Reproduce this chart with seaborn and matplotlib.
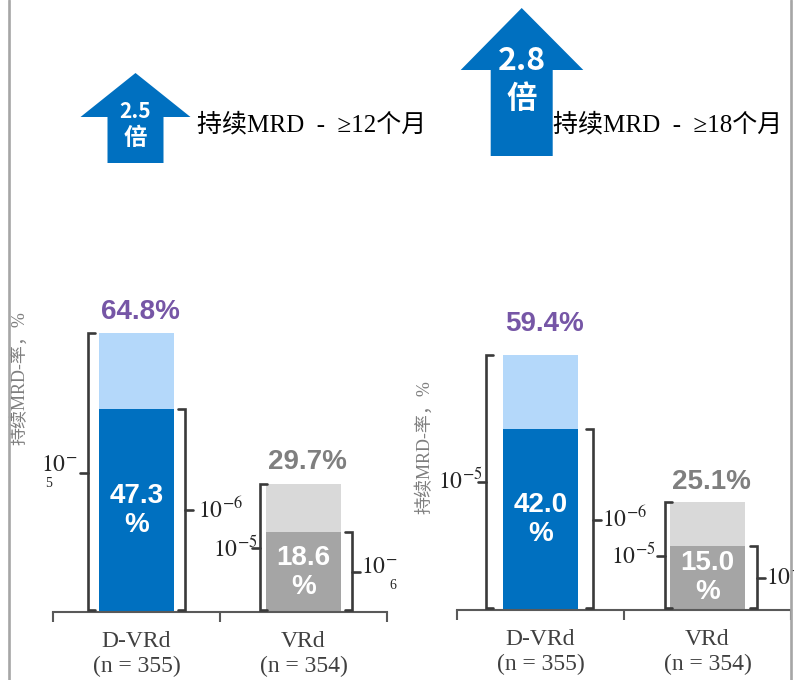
import matplotlib
matplotlib.use('Agg')
import matplotlib.pyplot as plt
import numpy as np
import pandas as pd
import seaborn as sns
from matplotlib.patches import Polygon
from matplotlib.lines import Line2D

# ---------------- data ----------------
groups = ['D-VRd', 'VRd']
group_labels = ['D-VRd\n(n = 355)', 'VRd\n(n = 354)']
titles = ['持续MRD  -  ≥12个月', '持续MRD  -  ≥18个月']
fold_values = ['2.5', '2.8']
fold_unit = '倍'
ylabel_text = '持续MRD-率，%'

total_12m = [64.8, 29.7]   # MRD 10^-5
deep_12m = [47.3, 18.6]    # MRD 10^-6
total_18m = [59.4, 25.1]
deep_18m = [42.0, 15.0]

# ---------------- style ----------------
sns.set_theme(style='white')
plt.rcParams['font.family'] = ['Liberation Serif', 'Noto Sans CJK SC', 'DejaVu Sans']
plt.rcParams['mathtext.fontset'] = 'stix'

W, H = 794, 680
DARK_BLUE = '#0070C0'
LIGHT_BLUE = '#B4D8FA'
DARK_GRAY = '#A5A5A5'
LIGHT_GRAY = '#D9D9D9'
PURPLE = '#7656A6'
TXT_GRAY = '#7F7F7F'
BRACKET = '#3A3A3A'
AXIS = '#595959'
SANS_CJK = ['Noto Sans CJK SC', 'DejaVu Sans']
SERIF_CJK = ['Liberation Serif', 'Noto Sans CJK SC', 'DejaVu Sans']

fig = plt.figure(figsize=(W / 100, H / 100), dpi=100)
fig.patch.set_facecolor('white')


def fx(x):
    return x / W


def fy(y):
    return 1 - y / H


# frame lines
for xp in (8.5, 791):
    fig.add_artist(Line2D([fx(xp), fx(xp)], [0, 1], transform=fig.transFigure,
                          color='#A6A6A6', lw=1.9))

panels = [
    dict(total=total_12m, deep=deep_12m, left=53, base=612, title=titles[0],
         fold=fold_values[0], ylab=(-0.074, 0.544),
         top_off=[21, 22],
         br=[-0.29, 0.29, -0.26, 0.29],
         arrow=dict(tip=(135.5, 73), hb=117, hx=(80.5, 190.5), sx=(107.5, 163.5), bot=163,
                    t1=(135.5, 111, 15), t2=(135.5, 138, 17)),
         title_pos=(197, 125)),
    dict(total=total_18m, deep=deep_18m, left=457, base=610, title=titles[1],
         fold=fold_values[1], ylab=(-0.071, 0.379),
         top_off=[31, 20],
         br=[-0.326, 0.314, -0.255, 0.296],
         arrow=dict(tip=(521.7, 8), hb=70, hx=(460.7, 583.3), sx=(490.7, 552.7), bot=156,
                    t1=(521.7, 61, 23), t2=(521.7, 99, 22)),
         title_pos=(553, 125)),
]

PX_PER_UNIT = 167.0


def bracket(ax, x, top, stub_dir, tick_dir):
    s = 7 / PX_PER_UNIT
    t = 8 / PX_PER_UNIT
    ax.plot([x + stub_dir * s, x, x, x + stub_dir * s], [0.4, 0.4, top, top],
            color=BRACKET, lw=1.9, clip_on=False, solid_joinstyle='miter', zorder=5)
    ax.plot([x, x + tick_dir * t], [top / 2, top / 2], color=BRACKET, lw=1.9,
            clip_on=False, zorder=5)
    return x + tick_dir * t, top / 2


for pi, p in enumerate(panels):
    ax = fig.add_axes([fx(p['left']), fy(p['base']), 334 / W, 430 / H])
    df = pd.DataFrame({'group': groups, 'total': p['total'], 'deep': p['deep']})
    sns.barplot(data=df, x='group', y='total', hue='group', order=groups, hue_order=groups,
                palette=[LIGHT_BLUE, LIGHT_GRAY], width=0.455, saturation=1,
                errorbar=None, legend=False, linewidth=0, ax=ax)
    sns.barplot(data=df, x='group', y='deep', hue='group', order=groups, hue_order=groups,
                palette=[DARK_BLUE, DARK_GRAY], width=0.455, saturation=1,
                errorbar=None, legend=False, linewidth=0, ax=ax)
    ax.set_xlim(-0.5, 1.5)
    ax.set_ylim(0, 100)
    ax.set_facecolor('none')
    sns.despine(ax=ax, left=True)
    ax.spines['bottom'].set_color(AXIS)
    ax.spines['bottom'].set_linewidth(1.5)
    ax.set_yticks([])
    ax.set_xlabel('')
    ax.set_xticks([0, 1])
    ax.set_xticklabels(group_labels, fontsize=17, color='#404040', linespacing=1.22,
                       family=SERIF_CJK)
    ax.set_xticks([-0.5, 0.5, 1.5], minor=True)
    ax.tick_params(axis='x', which='major', length=0, pad=14)
    ax.tick_params(axis='x', which='minor', length=7.5, width=1.5, color=AXIS,
                   direction='out', bottom=True)
    ax.set_ylabel(ylabel_text, fontsize=13, color=TXT_GRAY, family=SERIF_CJK)
    ax.yaxis.set_label_coords(*p['ylab'])

    # value labels
    for i, (tv, dv) in enumerate(zip(p['total'], p['deep'])):
        ax.annotate(f'{tv:.1f}%', (i, tv), xytext=(3, p['top_off'][i] * 0.72),
                    textcoords='offset points', ha='center', va='center',
                    color=PURPLE if i == 0 else TXT_GRAY, fontsize=20,
                    fontweight='bold', family='Liberation Sans', annotation_clip=False)
        ax.text(i, dv / 2, f'{dv:.1f}\n%', ha='center', va='center', color='white',
                fontsize=20, fontweight='bold', family='Liberation Sans', linespacing=1.15)

    # brackets
    b = p['br']
    specs = [(0 + b[0], p['total'][0], 1, -1), (0 + b[1], p['deep'][0], -1, 1),
             (1 + b[2], p['total'][1], 1, -1), (1 + b[3], p['deep'][1], -1, 1)]
    ends = [bracket(ax, *s) for s in specs]
    lab5 = r'$10^{-5}$'
    lab6 = r'$10^{-6}$'
    kw = dict(textcoords='offset points', fontsize=17, color='#262626', annotation_clip=False)
    small = dict(textcoords='offset points', fontsize=10, color='#262626',
                 annotation_clip=False, ha='center', va='center')
    if pi == 0:
        ax.annotate(r'$10^{-}$', ends[0], xytext=(-2, 5), ha='right', va='center', **kw)
        ax.annotate('5', ends[0], xytext=(-23, -8), **small)
        ax.annotate(lab6, ends[1], xytext=(4, 0), ha='left', va='center', **kw)
        ax.annotate(lab5, ends[2], xytext=(4, 0), ha='right', va='center', **kw)
        ax.annotate(r'$10^{-}$', ends[3], xytext=(1, 3), ha='left', va='center', **kw)
        ax.annotate('6', ends[3], xytext=(24, -10), **small)
    else:
        ax.annotate(lab5, ends[0], xytext=(3, 1), ha='right', va='center', **kw)
        ax.annotate(lab6, ends[1], xytext=(1, 0), ha='left', va='center', **kw)
        ax.annotate(lab5, ends[2], xytext=(-1, 0), ha='right', va='center', **kw)
        ax.annotate(lab6, ends[3], xytext=(1, 0), ha='left', va='center', **kw)

    # arrow
    a = p['arrow']
    pts = [a['tip'], (a['hx'][1], a['hb']), (a['sx'][1], a['hb']), (a['sx'][1], a['bot']),
           (a['sx'][0], a['bot']), (a['sx'][0], a['hb']), (a['hx'][0], a['hb'])]
    fig.add_artist(Polygon([(fx(x), fy(y)) for x, y in pts], closed=True,
                           transform=fig.transFigure, facecolor=DARK_BLUE, edgecolor='none'))
    fig.text(fx(a['t1'][0]), fy(a['t1'][1]), p['fold'], ha='center', va='center',
             color='white', fontsize=a['t1'][2], fontweight='bold', family=SANS_CJK)
    fig.text(fx(a['t2'][0]), fy(a['t2'][1]), fold_unit, ha='center', va='center',
             color='white', fontsize=a['t2'][2], fontweight='bold', family=SANS_CJK)
    fig.text(fx(p['title_pos'][0]), fy(p['title_pos'][1]), p['title'], ha='left',
             va='center', fontsize=18, color='black', family=SERIF_CJK)

fig.savefig('out.png', dpi=100, facecolor='white')
